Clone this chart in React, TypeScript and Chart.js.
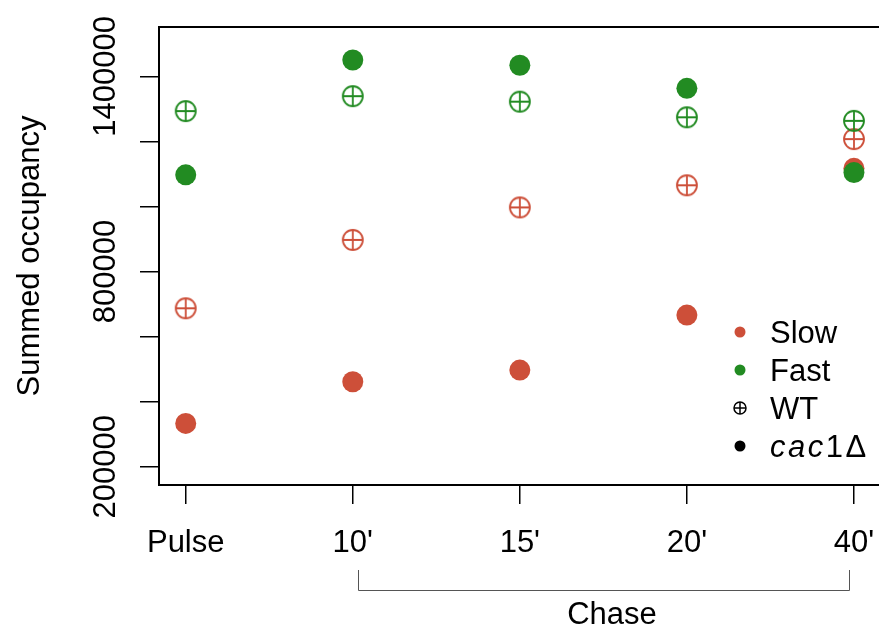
import React, { useEffect, useRef } from "react";
import { Chart, registerables } from "chart.js";
Chart.register(...registerables);

const categories = ["Pulse", "10'", "15'", "20'", "40'"];
const slowWT = [687000, 897000, 997000, 1065000, 1207000];
const slowCac1 = [333000, 461000, 497000, 666000, 1117000];
const fastWT = [1293000, 1339000, 1322000, 1274000, 1263000];
const fastCac1 = [1097000, 1450000, 1434000, 1363000, 1104000];
const yTickValues = [200000, 400000, 600000, 800000, 1000000, 1200000, 1400000];
const yLabeledTicks = [200000, 800000, 1400000];
const legendLabels = ["Slow", "Fast", "WT", "cac1Δ"];
const yTitle = "Summed occupancy";
const chaseLabel = "Chase";

const RED = "#CD4F39";
const GREEN = "#228B22";
const FONT = "'Liberation Sans', Arial, sans-serif";
const FS = 31;

function circlePlus(color: string, r: number, lw: number) {
  const size = Math.ceil(2 * r + lw + 2);
  const c = document.createElement("canvas");
  c.width = size;
  c.height = size;
  const ctx = c.getContext("2d")!;
  const m = size / 2;
  ctx.strokeStyle = color;
  ctx.lineWidth = lw;
  ctx.beginPath();
  ctx.arc(m, m, r, 0, Math.PI * 2);
  ctx.stroke();
  ctx.beginPath();
  ctx.moveTo(m - r, m);
  ctx.lineTo(m + r, m);
  ctx.moveTo(m, m - r);
  ctx.lineTo(m, m + r);
  ctx.stroke();
  return c;
}

const toPts = (arr: number[]) => arr.map((y, i) => ({ x: i, y }));

export default function App() {
  const ref = useRef<HTMLCanvasElement>(null);
  useEffect(() => {
    const plusRed = circlePlus(RED, 10, 1.8);
    const plusGreen = circlePlus(GREEN, 10, 1.8);
    const plusBlack = circlePlus("#000", 6, 1.5);

    const decor = {
      id: "decor",
      afterDraw(chart: any) {
        const { ctx, chartArea, scales } = chart;
        const x = scales.x;
        const y = scales.y;
        ctx.save();
        // top border of box
        ctx.strokeStyle = "#000";
        ctx.lineWidth = 2;
        ctx.beginPath();
        ctx.moveTo(chartArea.left - 1, chartArea.top);
        ctx.lineTo(chartArea.right, chartArea.top);
        ctx.stroke();

        // rotated y tick labels
        ctx.fillStyle = "#000";
        ctx.font = `${FS}px ${FONT}`;
        ctx.textAlign = "center";
        ctx.textBaseline = "alphabetic";
        for (const v of yLabeledTicks) {
          const py = y.getPixelForValue(v);
          ctx.save();
          ctx.translate(chartArea.left - 44, py);
          ctx.rotate(-Math.PI / 2);
          ctx.fillText(String(v), 0, 0);
          ctx.restore();
        }

        // y axis title
        ctx.save();
        ctx.translate(39, (chartArea.top + chartArea.bottom) / 2);
        ctx.rotate(-Math.PI / 2);
        ctx.fillText(yTitle, 0, 0);
        ctx.restore();

        // legend
        const lx = 740;
        const ly0 = 332;
        const step = 38;
        const syms: any[] = [
          { kind: "dot", color: RED },
          { kind: "dot", color: GREEN },
          { kind: "img", img: plusBlack },
          { kind: "dot", color: "#000" },
        ];
        legendLabels.forEach((lab, i) => {
          const cy = ly0 + step * i;
          const s = syms[i];
          if (s.kind === "dot") {
            ctx.fillStyle = s.color;
            ctx.beginPath();
            ctx.arc(lx, cy, 5.5, 0, Math.PI * 2);
            ctx.fill();
          } else {
            ctx.drawImage(s.img, lx - s.img.width / 2, cy - s.img.height / 2);
          }
          ctx.fillStyle = "#000";
          ctx.textAlign = "left";
          ctx.textBaseline = "alphabetic";
          if (lab.startsWith("cac")) {
            const it = lab.slice(0, 3);
            const rest = lab.slice(3);
            ctx.font = `italic ${FS}px ${FONT}`;
            (ctx as any).letterSpacing = "2.5px";
            ctx.fillText(it, 770, cy + 11);
            const w = ctx.measureText(it).width;
            ctx.font = `${FS}px ${FONT}`;
            ctx.fillText(rest, 770 + w, cy + 11);
            (ctx as any).letterSpacing = "0px";
          } else {
            ctx.font = `${FS}px ${FONT}`;
            ctx.fillText(lab, 770, cy + 11);
          }
        });

        // Chase bracket
        const xa = Math.round(x.getPixelForValue(1) + 5) + 0.5;
        const xb = Math.round(x.getPixelForValue(4) - 5) + 0.5;
        ctx.strokeStyle = "#555";
        ctx.lineWidth = 1;
        ctx.beginPath();
        ctx.moveTo(xa, 570);
        ctx.lineTo(xa, 590.5);
        ctx.lineTo(xb, 590.5);
        ctx.lineTo(xb, 570);
        ctx.stroke();
        ctx.fillStyle = "#000";
        ctx.font = `${FS}px ${FONT}`;
        ctx.textAlign = "center";
        ctx.fillText(chaseLabel, (xa + xb) / 2 + 8, 624);
        ctx.restore();
      },
    };

    const chart = new Chart(ref.current!, {
      type: "scatter",
      data: {
        datasets: [
          { label: "Fast cac1", data: toPts(fastCac1), pointStyle: "circle", pointRadius: 10.5, backgroundColor: GREEN, borderWidth: 0, order: 0 },
          { label: "Fast WT", data: toPts(fastWT), pointStyle: plusGreen as any, pointRadius: 10, order: 1 },
          { label: "Slow cac1", data: toPts(slowCac1), pointStyle: "circle", pointRadius: 10.5, backgroundColor: RED, borderWidth: 0, order: 2 },
          { label: "Slow WT", data: toPts(slowWT), pointStyle: plusRed as any, pointRadius: 10, order: 3 },
        ],
      },
      options: {
        responsive: false,
        animation: false,
        devicePixelRatio: 1,
        events: [],
        layout: { autoPadding: false, padding: { top: 27, left: 0, right: 0, bottom: 0 } },
        plugins: { legend: { display: false }, tooltip: { enabled: false } },
        scales: {
          x: {
            type: "linear",
            position: "bottom",
            min: -0.16,
            max: 4.15,
            afterBuildTicks: (s: any) => {
              s.ticks = categories.map((_, i) => ({ value: i }));
            },
            afterFit: (s: any) => {
              s.height = 145;
              s.paddingLeft = 0;
              s.paddingRight = 0;
            },
            ticks: {
              callback: (v: any) => categories[v] ?? "",
              autoSkip: false,
              maxRotation: 0,
              minRotation: 0,
              padding: 21,
              color: "#000",
              font: { family: FONT, size: FS },
            },
            grid: { drawOnChartArea: false, drawTicks: true, tickLength: 19, color: "#000", lineWidth: 1.5 },
            border: { display: true, color: "#000", width: 2 },
          },
          y: {
            type: "linear",
            position: "left",
            min: 143750,
            max: 1551500,
            afterBuildTicks: (s: any) => {
              s.ticks = yTickValues.map((v) => ({ value: v }));
            },
            afterFit: (s: any) => {
              s.width = 159;
              s.paddingTop = 0;
              s.paddingBottom = 0;
            },
            ticks: { display: false },
            grid: { drawOnChartArea: false, drawTicks: true, tickLength: 19, color: "#000", lineWidth: 1.5 },
            border: { display: true, color: "#000", width: 2 },
          },
        },
      },
      plugins: [decor],
    } as any);
    return () => chart.destroy();
  }, []);

  return (
    <div style={{ position: "fixed", left: 0, top: 0, width: 879, height: 630, background: "#fff" }}>
      <canvas ref={ref} width={879} height={630} style={{ display: "block" }} />
    </div>
  );
}
